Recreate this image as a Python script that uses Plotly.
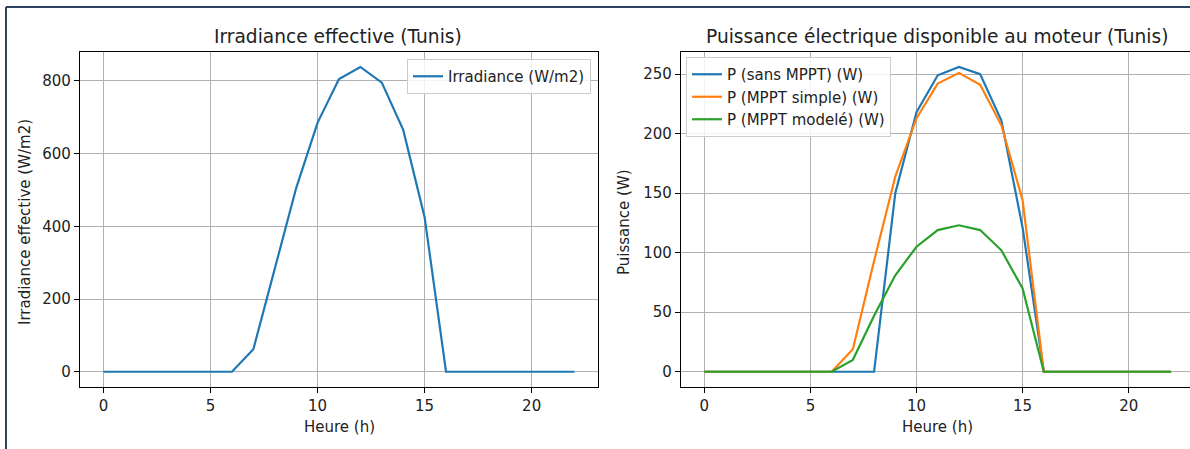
import plotly.graph_objects as go

hours = list(range(23))
irradiance = [0, 0, 0, 0, 0, 0, 0, 62, 282, 505, 685, 805, 838, 795, 665, 425, 0, 0, 0, 0, 0, 0, 0]
p_sans_mppt = [0, 0, 0, 0, 0, 0, 0, 0, 0, 150, 218, 249, 256, 250, 211, 121, 0, 0, 0, 0, 0, 0, 0]
p_mppt_simple = [0, 0, 0, 0, 0, 0, 0, 19, 93, 164, 213, 242, 251, 241, 207, 144, 0, 0, 0, 0, 0, 0, 0]
p_mppt_modele = [0, 0, 0, 0, 0, 0, 0, 10, 47, 81, 105, 119, 123, 119, 102, 70, 0, 0, 0, 0, 0, 0, 0]

W, H = 1190, 449
FONT = "DejaVu Sans"
C_BLUE, C_ORANGE, C_GREEN = "#1f77b4", "#ff7f0e", "#2ca02c"

def px(x):
    return x / W

def py(y):
    return 1 - y / H

fig = go.Figure()
fig.add_trace(go.Scatter(x=hours, y=irradiance, mode="lines", name="Irradiance (W/m2)",
                         line=dict(color=C_BLUE, width=2.2), xaxis="x", yaxis="y", legend="legend"))
fig.add_trace(go.Scatter(x=hours, y=p_sans_mppt, mode="lines", name="P (sans MPPT) (W)",
                         line=dict(color=C_BLUE, width=2.2), xaxis="x2", yaxis="y2", legend="legend2"))
fig.add_trace(go.Scatter(x=hours, y=p_mppt_simple, mode="lines", name="P (MPPT simple) (W)",
                         line=dict(color=C_ORANGE, width=2.2), xaxis="x2", yaxis="y2", legend="legend2"))
fig.add_trace(go.Scatter(x=hours, y=p_mppt_modele, mode="lines", name="P (MPPT modelé) (W)",
                         line=dict(color=C_GREEN, width=2.2), xaxis="x2", yaxis="y2", legend="legend2"))

ax_common = dict(
    showgrid=True, gridcolor="#b0b0b0", gridwidth=1.2,
    showline=True, linecolor="black", linewidth=1.2, mirror=True,
    ticks="outside", ticklen=5, tickwidth=1.1, tickcolor="black",
    tickfont=dict(family=FONT, size=15, color="#222222"),
    zeroline=False,
)

ydom = [py(387), py(51.7)]
fig.update_layout(
    width=W, height=H,
    margin=dict(l=0, r=0, t=0, b=0),
    paper_bgcolor="white", plot_bgcolor="white",
    font=dict(family=FONT, size=15, color="#222222"),
    xaxis=dict(domain=[px(80), px(598)], range=[-1.1, 23.1], tickvals=[0, 5, 10, 15, 20],
               anchor="y", **ax_common),
    yaxis=dict(domain=ydom, range=[-41.9, 880], tickvals=[0, 200, 400, 600, 800],
               anchor="x", **ax_common),
    xaxis2=dict(domain=[px(681), 1.0], range=[-1.1, 22.89], tickvals=[0, 5, 10, 15, 20],
                anchor="y2", **ax_common),
    yaxis2=dict(domain=ydom, range=[-12.8, 268.8], tickvals=[0, 50, 100, 150, 200, 250],
                anchor="x2", **ax_common),
    legend=dict(x=px(591), y=py(59), xanchor="right", yanchor="top",
                bgcolor="rgba(255,255,255,0.85)", bordercolor="#cccccc", borderwidth=1,
                font=dict(family=FONT, size=15, color="#222222"), tracegroupgap=0),
    legend2=dict(x=px(686), y=py(57), xanchor="left", yanchor="top",
                 bgcolor="rgba(255,255,255,0.85)", bordercolor="#cccccc", borderwidth=1,
                 font=dict(family=FONT, size=15, color="#222222"), tracegroupgap=0),
    showlegend=True,
)

annots = [
    dict(text="Irradiance effective (Tunis)", x=px(338), y=py(37), size=18.6),
    dict(text="Puissance électrique disponible au moteur (Tunis)", x=px(937), y=py(37), size=18.6),
    dict(text="Heure (h)", x=px(339), y=py(427), size=15),
    dict(text="Heure (h)", x=px(937), y=py(427), size=15),
]
for a in annots:
    fig.add_annotation(text=a["text"], x=a["x"], y=a["y"], xref="paper", yref="paper",
                       xanchor="center", yanchor="middle", showarrow=False,
                       font=dict(family=FONT, size=a["size"], color="#222222"))
fig.add_annotation(text="Irradiance effective (W/m2)", x=px(25), y=py(222), xref="paper", yref="paper",
                   xanchor="center", yanchor="middle", showarrow=False, textangle=-90,
                   font=dict(family=FONT, size=15, color="#222222"))
fig.add_annotation(text="Puissance (W)", x=px(624), y=py(222), xref="paper", yref="paper",
                   xanchor="center", yanchor="middle", showarrow=False, textangle=-90,
                   font=dict(family=FONT, size=15, color="#222222"))

# outer frame (left and top edges)
fig.add_shape(type="line", xref="paper", yref="paper", x0=px(6), x1=px(6), y0=0, y1=py(7),
              line=dict(color="#2b4262", width=2))
fig.add_shape(type="line", xref="paper", yref="paper", x0=px(6), x1=1, y0=py(7), y1=py(7),
              line=dict(color="#2b4262", width=2))

fig.write_html("out.html",
               config={"displayModeBar": False},
               post_script="document.body.style.margin='0';document.body.style.overflow='hidden';")
